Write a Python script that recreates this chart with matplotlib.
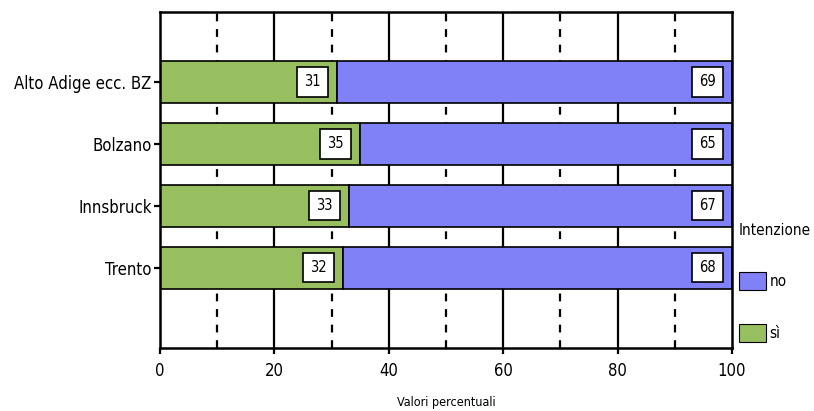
import numpy as np
import matplotlib
matplotlib.use("Agg")
from matplotlib import pyplot as plt
from matplotlib.patches import Patch

plt.rcParams['font.family'] = ['Liberation Sans Narrow', 'DejaVu Sans']
plt.rcParams['font.stretch'] = 'condensed'

# survey: intention by area (percent)
places = ["Alto Adige ecc. BZ", "Bolzano", "Innsbruck", "Trento"]
si = [31, 35, 33, 32]
no = [69, 65, 67, 68]

green = "#97bf60"
blue = "#8080f7"

fig = plt.figure(figsize=(8.14, 4.11), dpi=100)
ax = fig.add_axes([0.1966, 0.1533, 0.7027, 0.8175])

# grid: solid on majors, dashed on the odd tens
for v in [20, 40, 60, 80]:
    ax.axvline(v, color="black", lw=1.6, zorder=0)
for v in [10, 30, 50, 70, 90]:
    ax.axvline(v, color="black", lw=1.6, ls=(0, (3.5, 3.5)), zorder=0)

y = np.arange(len(places))[::-1]
ax.barh(y, si, height=0.68, color=green, edgecolor="black", lw=1.2, zorder=2)
ax.barh(y, no, left=si, height=0.68, color=blue, edgecolor="black", lw=1.2, zorder=2)

box = dict(boxstyle="square,pad=0.5", fc="white", ec="black", lw=1.2)
for yi, s, n in zip(y, si, no):
    ax.text(s - 4.3, yi, str(s), ha="center", va="center", fontsize=10.5, bbox=box, zorder=3)
    ax.text(s + n - 4.3, yi, str(n), ha="center", va="center", fontsize=10.5, bbox=box, zorder=3)

ax.set_xlim(0, 100)
ax.set_ylim(-1.3, 4.13)
ax.set_yticks(y)
ax.set_yticklabels(places, fontsize=12)
ax.set_xticks([0, 20, 40, 60, 80, 100])
ax.tick_params(axis="x", labelsize=12, length=4, width=1.6, pad=6)
ax.tick_params(axis="y", length=4, width=1.6, pad=2)
for sp in ax.spines.values():
    sp.set_linewidth(1.8)

fig.text(0.548, 0.005, "Valori percentuali", ha="center", va="bottom", fontsize=9)

handles = [Patch(fc=blue, ec="black", lw=0.8), Patch(fc=green, ec="black", lw=0.8)]
leg = ax.legend(handles, ["no", "sì"], title="Intenzione", loc="upper left",
                bbox_to_anchor=(0.993, 0.405), frameon=False, fontsize=11,
                title_fontsize=11, handlelength=1.8, handleheight=1.4,
                handletextpad=0.2, labelspacing=2.25, borderaxespad=0.3)
leg._legend_box.align = "left"

fig.savefig("out.png", dpi=100)
